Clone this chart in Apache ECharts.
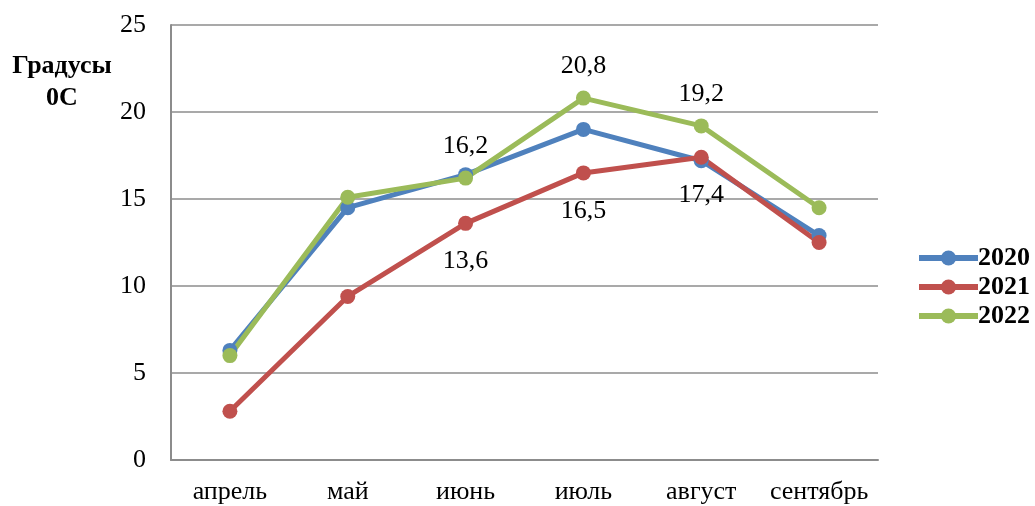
<!DOCTYPE html>
<html>
<head>
<meta charset="utf-8">
<script src="https://cdn.jsdelivr.net/npm/echarts@6/dist/echarts.min.js"></script>
<style>
  html, body { margin: 0; padding: 0; background: #fff; }
  #chart { width: 1035px; height: 506px; }
</style>
</head>
<body>
<div id="chart"></div>
<script>
// Monthly mean temperatures, °C
const months = ['апрель', 'май', 'июнь', 'июль', 'август', 'сентябрь'];
const t2020 = [6.3, 14.5, 16.4, 19.0, 17.2, 12.9];
const t2021 = [2.8, 9.4, 13.6, 16.5, 17.4, 12.5];
const t2022 = [6.0, 15.1, 16.2, 20.8, 19.2, 14.5];
// Months whose values are printed next to the point
const labelled2021 = ['июнь', 'июль', 'август'];
const labelled2022 = ['июнь', 'июль', 'август'];
const yTicks = [0, 5, 10, 15, 20, 25];

const FONT = '"Liberation Serif", "Times New Roman", serif';
const FS = 26;
const fmt = v => String(v).replace('.', ',');

function seriesData(values, labelled, offsetY) {
  return values.map((v, i) => {
    if (labelled.indexOf(months[i]) < 0) return v;
    return {
      value: v,
      label: {
        show: true,
        position: 'inside',
        offset: [0, offsetY],
        formatter: p => fmt(p.value),
        fontFamily: FONT,
        fontSize: FS,
        color: '#000'
      }
    };
  });
}

function line(name, color, values) {
  return {
    name: name,
    type: 'line',
    data: values,
    symbol: 'circle',
    symbolSize: 15,
    lineStyle: { width: 5, color: color },
    itemStyle: { color: color },
    label: { show: false },
    emphasis: { disabled: true },
    animation: false
  };
}

const chart = echarts.init(document.getElementById('chart'), null, { renderer: 'canvas' });
chart.setOption({
  backgroundColor: '#fff',
  grid: { left: 171, right: 157, top: 25, bottom: 46 },
  xAxis: {
    type: 'category',
    data: months,
    boundaryGap: true,
    axisLine: { lineStyle: { color: '#8c8c8c', width: 2 } },
    axisTick: { show: false },
    axisLabel: { interval: 0, fontFamily: FONT, fontSize: FS, color: '#000', margin: 19 }
  },
  yAxis: {
    type: 'value',
    min: yTicks[0],
    max: yTicks[yTicks.length - 1],
    interval: 5,
    axisLine: { show: true, lineStyle: { color: '#8c8c8c', width: 2 } },
    axisTick: { show: false },
    splitLine: { lineStyle: { color: '#8c8c8c', width: 1.5 } },
    axisLabel: { fontFamily: FONT, fontSize: FS, color: '#000', margin: 25 }
  },
  legend: {
    orient: 'vertical',
    left: 911,
    top: 240,
    itemWidth: 59,
    itemHeight: 19,
    itemGap: 3,
    lineStyle: { width: 6 },
    textStyle: { fontFamily: FONT, fontSize: FS, fontWeight: 'bold', color: '#000', padding: [0, 0, 0, -5] },
    data: ['2020', '2021', '2022']
  },
  graphic: [
    {
      type: 'text',
      style: {
        text: 'Градусы', x: 62, y: 66,
        fontFamily: FONT, fontSize: FS, fontWeight: 'bold', fill: '#000',
        align: 'center', verticalAlign: 'middle'
      }
    },
    {
      type: 'text',
      style: {
        text: '0С', x: 62, y: 98,
        fontFamily: FONT, fontSize: FS, fontWeight: 'bold', fill: '#000',
        align: 'center', verticalAlign: 'middle'
      }
    }
  ],
  series: [
    line('2020', '#4F81BD', t2020),
    line('2021', '#C0504D', seriesData(t2021, labelled2021, 38)),
    line('2022', '#9BBB59', seriesData(t2022, labelled2022, -32))
  ]
});
</script>
</body>
</html>
